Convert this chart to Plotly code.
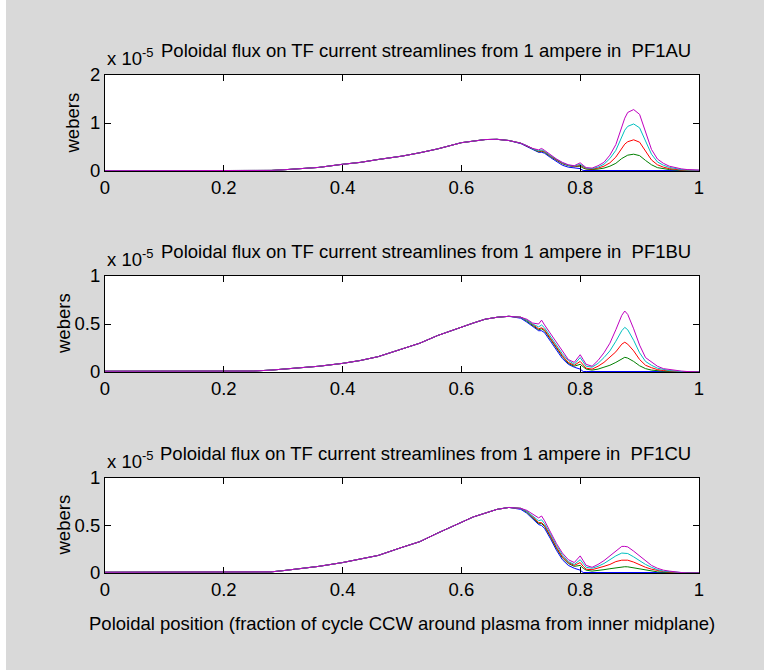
import plotly.graph_objects as go

# ---------------- data (units of 1e-5 webers) ----------------
X_HEAD = [0, 0.05, 0.10, 0.15, 0.20, 0.25, 0.28, 0.30, 0.33, 0.36, 0.40, 0.43,
          0.46, 0.50, 0.53, 0.56, 0.60, 0.62, 0.64, 0.66, 0.68]
X_TAIL = [0.70, 0.71, 0.72, 0.73, 0.735, 0.74, 0.75, 0.76, 0.77, 0.78, 0.79, 0.80,
          0.805, 0.81, 0.82, 0.83, 0.84, 0.85, 0.86, 0.87, 0.875, 0.88, 0.89, 0.90,
          0.91, 0.92, 0.93, 0.94, 0.95, 0.96, 0.97, 0.98, 1.00]

# PF1AU
HEAD_1 = [0.005, 0.005, 0.005, 0.005, 0.005, 0.006, 0.012, 0.025, 0.045, 0.075, 0.14, 0.18,
          0.24, 0.31, 0.38, 0.46, 0.59, 0.63, 0.655, 0.66, 0.635]
BLUE_1 = [0.57, 0.51, 0.44, 0.39, 0.39, 0.37, 0.28, 0.20, 0.12, 0.08, 0.06, 0.05,
          0.01, 0.01, 0.01, 0.01, 0.01, 0.01, 0.01, 0.01, 0.01, 0.01, 0.01, 0.01,
          0.01, 0.01, 0.01, 0.01, 0.01, 0.01, 0.01, 0.01, 0.01]
GREEN_1 = [0.58, 0.52, 0.45, 0.40, 0.41, 0.39, 0.30, 0.22, 0.15, 0.11, 0.09, 0.10,
           0.06, 0.04, 0.03, 0.04, 0.06, 0.10, 0.16, 0.26, 0.30, 0.33, 0.35, 0.32,
           0.22, 0.13, 0.07, 0.045, 0.03, 0.02, 0.01, 0.01, 0.005]
RED_1 = [0.58, 0.52, 0.46, 0.41, 0.42, 0.40, 0.31, 0.23, 0.16, 0.12, 0.09, 0.12,
         0.08, 0.05, 0.04, 0.06, 0.10, 0.17, 0.29, 0.48, 0.56, 0.61, 0.65, 0.60,
         0.41, 0.23, 0.13, 0.08, 0.05, 0.03, 0.02, 0.015, 0.01]
CYAN_1 = [0.58, 0.53, 0.46, 0.42, 0.44, 0.41, 0.32, 0.24, 0.17, 0.12, 0.10, 0.14,
          0.10, 0.06, 0.05, 0.08, 0.14, 0.26, 0.43, 0.73, 0.85, 0.93, 0.98, 0.90,
          0.62, 0.35, 0.19, 0.12, 0.075, 0.05, 0.03, 0.02, 0.015]
MAGENTA_1 = [0.58, 0.53, 0.47, 0.44, 0.47, 0.43, 0.33, 0.25, 0.18, 0.13, 0.11, 0.17,
             0.12, 0.07, 0.06, 0.11, 0.18, 0.33, 0.55, 0.95, 1.10, 1.22, 1.28, 1.18,
             0.80, 0.45, 0.25, 0.16, 0.10, 0.07, 0.045, 0.03, 0.02]

# PF1BU
HEAD_2 = [0.008, 0.008, 0.008, 0.008, 0.008, 0.01, 0.02, 0.03, 0.045, 0.06, 0.09, 0.12,
          0.16, 0.24, 0.30, 0.38, 0.47, 0.51, 0.55, 0.57, 0.58]
BLUE_2 = [0.56, 0.52, 0.47, 0.43, 0.43, 0.41, 0.32, 0.23, 0.14, 0.08, 0.05, 0.03,
          0.005, 0.005, 0.005, 0.005, 0.005, 0.005, 0.005, 0.005, 0.005, 0.005, 0.005, 0.005,
          0.005, 0.005, 0.005, 0.005, 0.005, 0.005, 0.005, 0.005, 0.005]
GREEN_2 = [0.57, 0.53, 0.48, 0.44, 0.45, 0.43, 0.34, 0.25, 0.16, 0.09, 0.06, 0.08,
           0.05, 0.03, 0.02, 0.03, 0.05, 0.07, 0.10, 0.14, 0.153, 0.145, 0.11, 0.065,
           0.035, 0.02, 0.012, 0.008, 0.005, 0.0, 0.0, 0.0, 0.0]
RED_2 = [0.57, 0.54, 0.49, 0.45, 0.46, 0.44, 0.35, 0.26, 0.17, 0.10, 0.07, 0.11,
         0.07, 0.04, 0.03, 0.06, 0.10, 0.15, 0.21, 0.29, 0.31, 0.29, 0.22, 0.13,
         0.07, 0.045, 0.025, 0.015, 0.01, 0.005, 0.0, 0.0, 0.0]
CYAN_2 = [0.57, 0.54, 0.50, 0.47, 0.49, 0.46, 0.37, 0.28, 0.19, 0.12, 0.08, 0.15,
          0.10, 0.06, 0.05, 0.09, 0.15, 0.22, 0.32, 0.43, 0.465, 0.44, 0.33, 0.20,
          0.11, 0.07, 0.04, 0.025, 0.015, 0.01, 0.005, 0.0, 0.0]
MAGENTA_2 = [0.57, 0.55, 0.51, 0.50, 0.54, 0.49, 0.40, 0.30, 0.21, 0.13, 0.10, 0.18,
             0.13, 0.08, 0.06, 0.12, 0.20, 0.30, 0.44, 0.59, 0.635, 0.60, 0.45, 0.28,
             0.15, 0.10, 0.06, 0.035, 0.025, 0.015, 0.01, 0.005, 0.0]

# PF1CU
HEAD_3 = [0.008, 0.008, 0.008, 0.008, 0.008, 0.009, 0.012, 0.025, 0.045, 0.07, 0.11, 0.145,
          0.185, 0.27, 0.33, 0.42, 0.53, 0.59, 0.63, 0.67, 0.69]
BLUE_3 = [0.67, 0.63, 0.57, 0.51, 0.50, 0.47, 0.36, 0.24, 0.14, 0.08, 0.05, 0.03,
          0.005, 0.005, 0.005, 0.005, 0.005, 0.005, 0.005, 0.005, 0.005, 0.005, 0.005, 0.005,
          0.005, 0.005, 0.005, 0.005, 0.005, 0.005, 0.005, 0.005, 0.005]
GREEN_3 = [0.68, 0.64, 0.58, 0.52, 0.52, 0.49, 0.38, 0.26, 0.16, 0.10, 0.07, 0.08,
           0.05, 0.03, 0.02, 0.025, 0.035, 0.045, 0.055, 0.065, 0.066, 0.065, 0.055, 0.04,
           0.03, 0.02, 0.012, 0.008, 0.005, 0.0, 0.0, 0.0, 0.0]
RED_3 = [0.68, 0.65, 0.59, 0.53, 0.53, 0.50, 0.39, 0.27, 0.17, 0.11, 0.08, 0.11,
         0.07, 0.04, 0.035, 0.05, 0.07, 0.09, 0.12, 0.135, 0.137, 0.135, 0.115, 0.085,
         0.06, 0.04, 0.025, 0.015, 0.01, 0.005, 0.0, 0.0, 0.0]
CYAN_3 = [0.68, 0.65, 0.60, 0.55, 0.56, 0.52, 0.41, 0.29, 0.19, 0.12, 0.09, 0.14,
          0.10, 0.06, 0.05, 0.07, 0.10, 0.14, 0.18, 0.21, 0.21, 0.205, 0.17, 0.13,
          0.09, 0.06, 0.035, 0.02, 0.015, 0.008, 0.004, 0.0, 0.0]
MAGENTA_3 = [0.68, 0.66, 0.62, 0.58, 0.60, 0.55, 0.43, 0.31, 0.21, 0.14, 0.11, 0.18,
             0.13, 0.08, 0.06, 0.09, 0.13, 0.18, 0.24, 0.28, 0.28, 0.275, 0.23, 0.18,
             0.12, 0.08, 0.05, 0.03, 0.02, 0.01, 0.005, 0.0, 0.0]

COILS = ["PF1AU", "PF1BU", "PF1CU"]
Y_RANGES = [[0, 2], [0, 1], [0, 1]]
Y_TICKVALS = [[0, 1, 2], [0, 0.5, 1], [0, 0.5, 1]]
Y_TICKTEXT = [["0", "1", "2"], ["0", "0.5", "1"], ["0", "0.5", "1"]]
X_TICKVALS = [0, 0.2, 0.4, 0.6, 0.8, 1.0]
X_TICKTEXT = ["0", "0.2", "0.4", "0.6", "0.8", "1"]
SERIES_COLORS = ["#0000ff", "#008000", "#ff0000", "#00bfbf", "#bf00bf"]

HEADS = [HEAD_1, HEAD_2, HEAD_3]
TAILS = [
    [BLUE_1, GREEN_1, RED_1, CYAN_1, MAGENTA_1],
    [BLUE_2, GREEN_2, RED_2, CYAN_2, MAGENTA_2],
    [BLUE_3, GREEN_3, RED_3, CYAN_3, MAGENTA_3],
]

# ---------------- layout geometry ----------------
W, H = 764, 670
ML, MR, MT, MB = 105, 65, 75, 97
PW = W - ML - MR
PH = H - MT - MB
AX_PX = [(75, 171), (276, 372), (478, 573)]   # pixel rows of axes (top, bottom)
YLABEL_PX = [72.5, 63, 63]                      # x centre of "webers"


def py2paper(py):
    return (H - MB - py) / PH


def px2paper(px):
    return (px - ML) / PW


FONT = "Arial, Liberation Sans, sans-serif"
FS = 18.5

fig = go.Figure()
xs = X_HEAD + X_TAIL
for i in range(3):
    for s, col in enumerate(SERIES_COLORS):
        fig.add_trace(go.Scatter(
            x=xs, y=HEADS[i] + TAILS[i][s], mode="lines",
            line=dict(color=col, width=1),
            xaxis=f"x{i+1}", yaxis=f"y{i+1}", showlegend=False, hoverinfo="skip"))

layout = dict(
    width=W, height=H,
    margin=dict(l=ML, r=MR, t=MT, b=MB, pad=0),
    paper_bgcolor="#d9d9d9", plot_bgcolor="#ffffff",
    showlegend=False,
    font=dict(family=FONT, size=FS, color="black"),
)

annotations = []
for i in range(3):
    top, bot = AX_PX[i]
    d0, d1 = py2paper(bot), py2paper(top)
    xa = "xaxis" if i == 0 else f"xaxis{i+1}"
    ya = "yaxis" if i == 0 else f"yaxis{i+1}"
    layout[xa] = dict(
        domain=[0, 1], range=[0, 1], anchor=f"y{i+1}",
        tickvals=X_TICKVALS, ticktext=X_TICKTEXT,
        ticks="inside", ticklen=6, tickcolor="black", tickwidth=1,
        showline=True, linecolor="black", linewidth=1, mirror="ticks",
        showgrid=False, zeroline=False,
        tickfont=dict(family=FONT, size=FS, color="black"),
    )
    layout[ya] = dict(
        domain=[d0, d1], range=Y_RANGES[i], anchor=f"x{i+1}",
        tickvals=Y_TICKVALS[i], ticktext=Y_TICKTEXT[i],
        ticks="inside", ticklen=6, tickcolor="black", tickwidth=1,
        showline=True, linecolor="black", linewidth=1, mirror="ticks",
        showgrid=False, zeroline=False,
        tickfont=dict(family=FONT, size=FS, color="black"),
    )
    annotations.append(dict(
        text=f"Poloidal flux on TF current streamlines from 1 ampere in \u00a0{COILS[i]}",
        xref="paper", yref="paper", x=px2paper(425.5), y=d1,
        xanchor="center", yanchor="bottom", yshift=12, showarrow=False,
        font=dict(family=FONT, size=FS, color="black")))
    annotations.append(dict(
        text="x 10<sup>-5</sup>",
        xref="paper", yref="paper", x=px2paper(105), y=d1,
        xanchor="left", yanchor="bottom", yshift=4, showarrow=False,
        font=dict(family=FONT, size=FS, color="black")))
    annotations.append(dict(
        text="webers", textangle=-90,
        xref="paper", yref="paper", x=px2paper(YLABEL_PX[i]), y=(d0 + d1) / 2,
        xanchor="center", yanchor="middle", showarrow=False,
        font=dict(family=FONT, size=FS, color="black")))

annotations.append(dict(
    text="Poloidal position (fraction of cycle CCW around plasma from inner midplane)",
    xref="paper", yref="paper", x=0.5, y=py2paper(623),
    xanchor="center", yanchor="middle", showarrow=False,
    font=dict(family=FONT, size=FS, color="black")))

layout["annotations"] = annotations
layout["shapes"] = [dict(
    type="rect", xref="paper", yref="paper", layer="below",
    x0=px2paper(0), x1=px2paper(6), y0=py2paper(H), y1=py2paper(0),
    fillcolor="white", line=dict(width=0))]

fig.update_layout(**layout)
fig.write_html("out.html")
